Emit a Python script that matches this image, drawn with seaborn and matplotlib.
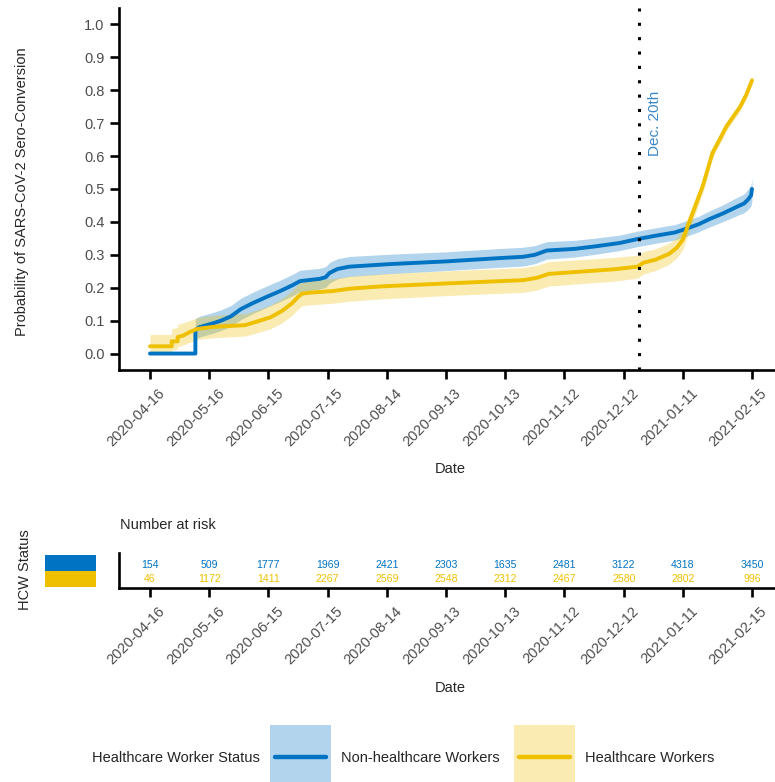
import matplotlib
matplotlib.use("Agg")
import matplotlib.pyplot as plt
from matplotlib.patches import Rectangle
from matplotlib.lines import Line2D
from matplotlib.transforms import ScaledTranslation
from matplotlib import font_manager
import numpy as np
import pandas as pd
import seaborn as sns

# ---- data (days since 2020-04-16) ----
start = pd.Timestamp("2020-04-16")

days_nhcw = [0, 23, 23, 25, 32, 36, 41, 46, 52, 59, 66, 72, 76, 86, 89, 91, 95, 101, 122, 150,
             177, 189, 195, 201, 215, 226, 238, 247, 258, 266, 272, 278, 284, 290, 297, 301, 303,
             304.5, 305]
prob_nhcw = [0.0, 0.0, 0.072, 0.08, 0.092, 0.10, 0.113, 0.135, 0.153, 0.172, 0.19, 0.207, 0.22,
             0.227, 0.232, 0.245, 0.257, 0.264, 0.272, 0.28, 0.29, 0.294, 0.3, 0.313, 0.318, 0.326,
             0.336, 0.348, 0.36, 0.368, 0.38, 0.393, 0.41, 0.425, 0.445, 0.456, 0.468, 0.48, 0.50]
lo_nhcw = [0.0, 0.0, 0.044, 0.05, 0.062, 0.07, 0.082, 0.103, 0.121, 0.14, 0.158, 0.175, 0.188,
           0.196, 0.201, 0.214, 0.227, 0.234, 0.243, 0.252, 0.262, 0.266, 0.273, 0.287, 0.293,
           0.302, 0.313, 0.325, 0.337, 0.345, 0.357, 0.37, 0.386, 0.4, 0.418, 0.428, 0.438, 0.449,
           0.466]
hi_nhcw = [0.0, 0.0, 0.106, 0.113, 0.125, 0.133, 0.146, 0.168, 0.186, 0.205, 0.223, 0.24, 0.253,
           0.259, 0.264, 0.277, 0.288, 0.295, 0.302, 0.309, 0.319, 0.323, 0.328, 0.34, 0.344,
           0.351, 0.36, 0.372, 0.384, 0.392, 0.404, 0.417, 0.435, 0.451, 0.473, 0.485, 0.499,
           0.512, 0.533]

days_hcw = [0, 11, 11, 14, 14, 17, 20, 24, 32, 41, 48, 53, 61, 67, 72, 75, 77, 81, 93, 101, 117,
            150, 189, 196, 202, 235, 247, 250, 256, 263, 267, 270, 275, 280, 285, 289, 292, 299,
            302, 305]
prob_hcw = [0.022, 0.022, 0.037, 0.037, 0.05, 0.055, 0.065, 0.075, 0.081, 0.084, 0.086, 0.095,
            0.11, 0.13, 0.153, 0.172, 0.182, 0.185, 0.19, 0.197, 0.204, 0.213, 0.223, 0.23, 0.242,
            0.256, 0.264, 0.276, 0.285, 0.303, 0.322, 0.347, 0.428, 0.508, 0.61, 0.655, 0.69, 0.75,
            0.785, 0.83]
lo_hcw = [0.0, 0.0, 0.01, 0.014, 0.02, 0.026, 0.034, 0.043, 0.048, 0.051, 0.053, 0.061, 0.075,
          0.094, 0.116, 0.135, 0.145, 0.148, 0.153, 0.159, 0.166, 0.176, 0.186, 0.193, 0.205, 0.22,
          0.229, 0.242, 0.252, 0.271, 0.291, 0.317, 0.403, 0.488, 0.595, 0.641, 0.677, 0.738,
          0.774, 0.818]
hi_hcw = [0.058, 0.058, 0.075, 0.08, 0.088, 0.094, 0.1, 0.109, 0.116, 0.119, 0.121, 0.13, 0.147,
          0.168, 0.191, 0.21, 0.22, 0.223, 0.228, 0.235, 0.242, 0.251, 0.261, 0.268, 0.279, 0.292,
          0.299, 0.31, 0.318, 0.335, 0.353, 0.377, 0.453, 0.528, 0.625, 0.669, 0.703, 0.762,
          0.796, 0.842]

tick_dates = ["2020-04-16", "2020-05-16", "2020-06-15", "2020-07-15", "2020-08-14", "2020-09-13",
              "2020-10-13", "2020-11-12", "2020-12-12", "2021-01-11", "2021-02-15"]
risk_nhcw = [154, 509, 1777, 1969, 2421, 2303, 1635, 2481, 3122, 4318, 3450]
risk_hcw = [46, 1172, 1411, 2267, 2569, 2548, 2312, 2467, 2580, 2802, 996]

groups = ["Non-healthcare Workers", "Healthcare Workers"]
blue = "#0073C2"
yellow = "#EFC000"
palette = {groups[0]: blue, groups[1]: yellow}


def make_df(days, prob, lo, hi, name):
    return pd.DataFrame({"date": start + pd.to_timedelta(days, unit="D"),
                         "prob": prob, "lo": lo, "hi": hi, "group": name})


df = pd.concat([make_df(days_nhcw, prob_nhcw, lo_nhcw, hi_nhcw, groups[0]),
                make_df(days_hcw, prob_hcw, lo_hcw, hi_hcw, groups[1])], ignore_index=True)

sns.set_theme(style="white")
plt.rcParams["font.family"] = ["Liberation Sans", "DejaVu Sans"]

# narrow face for the risk numbers if there is one
try:
    font_manager.findfont("Liberation Sans Narrow", fallback_to_default=False)
    risk_font = ["Liberation Sans Narrow"]
    risk_size = 8.5
except ValueError:
    risk_font = ["Liberation Sans"]
    risk_size = 7.6

W, H = 775, 782
fig = plt.figure(figsize=(W / 100, H / 100), dpi=100)

xlim = (start - pd.Timedelta(days=15.7), start + pd.Timedelta(days=320.2))
ticks = pd.to_datetime(tick_dates)
label_shift = ScaledTranslation(8 / 100, 0, fig.dpi_scale_trans)


def style_axis(a):
    sns.despine(ax=a)
    for s in ["left", "bottom"]:
        a.spines[s].set_linewidth(1.9)
        a.spines[s].set_color("black")
    a.tick_params(axis="both", bottom=True, left=True, length=6.5, width=1.9, color="black",
                  labelcolor="#4D4D4D", labelsize=10.5)
    a.tick_params(axis="y", pad=4)
    a.tick_params(axis="x", pad=5)
    a.set_xlim(*xlim)
    a.set_xticks(ticks)
    a.set_xticklabels(tick_dates, rotation=45, ha="right", va="top", rotation_mode="anchor")
    for lab in a.get_xticklabels():
        lab.set_transform(lab.get_transform() + label_shift)
    a.set_xlabel("")
    a.set_ylabel("")


# ---- main curve panel ----
ax = fig.add_axes([119 / W, (H - 370) / H, (782 - 119) / W, 362 / H])
for name in groups:
    sub = df[df["group"] == name]
    ax.fill_between(sub["date"], sub["lo"], sub["hi"], color=palette[name], alpha=0.3, lw=0)
sns.lineplot(data=df, x="date", y="prob", hue="group", palette=palette, sort=False,
             lw=2.8, estimator=None, errorbar=None, legend=False, ax=ax)

ax.axvline(pd.Timestamp("2020-12-20"), color="black", ls=(0, (1, 3.7)), lw=2.2)
ax.text(pd.Timestamp("2020-12-28"), 0.6, "Dec. 20th", rotation=90, ha="center", va="bottom",
        color="#3A87C9", fontsize=11)

ax.set_ylim(-0.05, 1.05)
yt = np.round(np.arange(0, 1.01, 0.1), 1)
ax.set_yticks(yt)
ax.set_yticklabels([f"{v:.1f}" for v in yt])
style_axis(ax)

fig.text(22 / W, (H - 192) / H, "Probability of SARS-CoV-2 Sero-Conversion", rotation=90,
         ha="center", va="center", fontsize=10.5)
fig.text(450 / W, (H - 469) / H, "Date", ha="center", va="center", fontsize=10.5)

# ---- number at risk table ----
ax2 = fig.add_axes([119 / W, (H - 588) / H, (782 - 119) / W, 35 / H])
for d, n1, n2 in zip(ticks, risk_nhcw, risk_hcw):
    ax2.text(d, 2, str(n1), color=blue, ha="center", va="center", fontsize=risk_size,
             family=risk_font)
    ax2.text(d, 1, str(n2), color=yellow, ha="center", va="center", fontsize=risk_size,
             family=risk_font)
ax2.set_ylim(0.36, 2.86)
ax2.set_yticks([])
style_axis(ax2)

fig.add_artist(Rectangle((45 / W, (H - 571) / H), 51 / W, 16 / H, transform=fig.transFigure,
                         color=blue, lw=0))
fig.add_artist(Rectangle((45 / W, (H - 587) / H), 51 / W, 16 / H, transform=fig.transFigure,
                         color=yellow, lw=0))
fig.text(120 / W, (H - 525) / H, "Number at risk", ha="left", va="center", fontsize=10.5)
fig.text(25 / W, (H - 570) / H, "HCW Status", rotation=90, ha="center", va="center", fontsize=10.5)
fig.text(450 / W, (H - 688) / H, "Date", ha="center", va="center", fontsize=10.5)

# ---- legend (keys drawn as in the ggplot guide) ----
ly = (H - 758) / H
fig.text(260 / W, ly, "Healthcare Worker Status", ha="right", va="center", fontsize=10.5)
for x0, g in [(270, groups[0]), (514, groups[1])]:
    fig.add_artist(Rectangle((x0 / W, (H - 791) / H), 61 / W, 66 / H, transform=fig.transFigure,
                             facecolor=palette[g], alpha=0.3, lw=0))
    fig.add_artist(Line2D([(x0 + 5) / W, (x0 + 56) / W], [(H - 757) / H] * 2,
                          transform=fig.transFigure, color=palette[g], lw=3.2))
    fig.text((x0 + 71) / W, ly, g, ha="left", va="center", fontsize=10.5)

fig.savefig("out.png", dpi=100)
